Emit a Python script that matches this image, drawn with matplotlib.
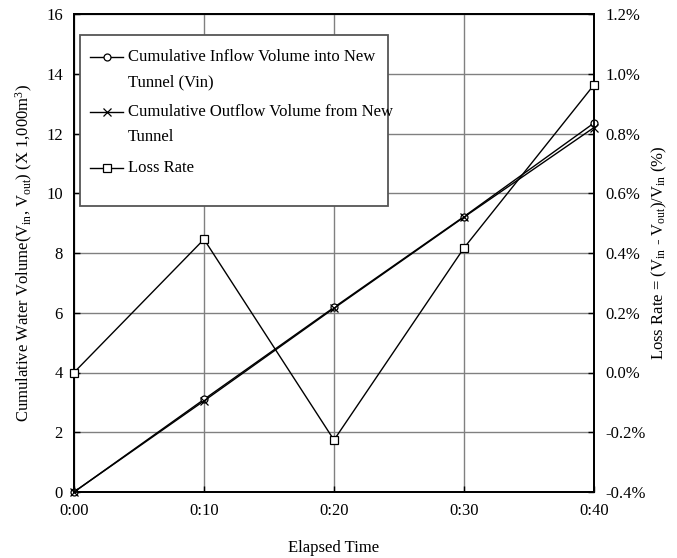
import matplotlib
matplotlib.use("Agg")
import matplotlib.pyplot as plt
from matplotlib.patches import Rectangle
from matplotlib.lines import Line2D
from matplotlib.ticker import FuncFormatter

plt.rcParams['font.family'] = ['Liberation Serif', 'DejaVu Serif']
plt.rcParams['mathtext.fontset'] = 'custom'
plt.rcParams['mathtext.rm'] = 'Liberation Serif'
plt.rcParams['mathtext.it'] = 'Liberation Serif:italic'
plt.rcParams['mathtext.default'] = 'regular'

# Data
minutes = [0, 10, 20, 30, 40]
time_labels = ["0:00", "0:10", "0:20", "0:30", "0:40"]
inflow = [0.0, 3.1, 6.18, 9.22, 12.35]
outflow = [0.0, 3.05, 6.15, 9.2, 12.2]
loss_rate = [0.0, 0.446, -0.226, 0.417, 0.963]  # percent

left_ticks = [0, 2, 4, 6, 8, 10, 12, 14, 16]
right_ticks = [-0.4, -0.2, 0.0, 0.2, 0.4, 0.6, 0.8, 1.0, 1.2]

legend_labels = [["Cumulative Inflow Volume into New", "Tunnel (Vin)"],
                 ["Cumulative Outflow Volume from New", "Tunnel"],
                 ["Loss Rate"]]

W, H = 677, 558
fs = 12
fig = plt.figure(figsize=(W/100, H/100), dpi=100)
ax = fig.add_axes([74/W, 1-492/H, 520/W, 478/H])
ax2 = ax.twinx()

ax.set_xlim(minutes[0], minutes[-1])
ax.set_ylim(left_ticks[0], left_ticks[-1])
ax2.set_ylim(right_ticks[0], right_ticks[-1])
ax.set_xticks(minutes)
ax.set_xticklabels(time_labels)
ax.set_yticks(left_ticks)
ax2.set_yticks(right_ticks)
ax2.yaxis.set_major_formatter(FuncFormatter(lambda v, p: f"{v:.1f}%"))

ax.grid(True, color='#808080', linewidth=1.0)
ax.set_axisbelow(True)

for a in (ax, ax2):
    a.tick_params(direction='in', length=4, width=1, labelsize=fs, pad=8)
    for s in a.spines.values():
        s.set_linewidth(1.3)
        s.set_color('black')

styles = [dict(marker='o', markersize=5, markerfacecolor='white',
               markeredgecolor='black', markeredgewidth=0.9),
          dict(marker='x', markersize=6, markeredgecolor='black',
               markeredgewidth=0.9),
          dict(marker='s', markersize=5.5, markerfacecolor='white',
               markeredgecolor='black', markeredgewidth=0.9)]

ax.plot(minutes, inflow, color='black', linewidth=1.0, zorder=3,
        clip_on=False, **styles[0])
ax.plot(minutes, outflow, color='black', linewidth=1.0, zorder=3,
        clip_on=False, **styles[1])
ax2.plot(minutes, loss_rate, color='black', linewidth=1.0, zorder=3,
         clip_on=False, **styles[2])

ax.set_xlabel("Elapsed Time", fontsize=fs, labelpad=15)
ax.set_ylabel("Cumulative Water Volume(V$_{in}$, V$_{out}$) (X 1,000m$^{3}$)",
              fontsize=fs, labelpad=8)
ax2.set_ylabel("Loss Rate = (V$_{in}$ - V$_{out}$)/V$_{in}$ (%)", fontsize=fs,
               labelpad=3)

# Legend (drawn manually so handles align with first line of each label)
def fx(px):
    return px / W

def fy(py):
    return 1 - py / H

rect = Rectangle((fx(80), fy(206)), fx(388) - fx(80), fy(35) - fy(206),
                 transform=fig.transFigure, facecolor='white',
                 edgecolor='#555555', linewidth=1.3, zorder=5)
fig.patches.append(rect)

entry_tops = [57, 112, 168]
line_gap = 25
for lines, top, st in zip(legend_labels, entry_tops, styles):
    fig.add_artist(Line2D([fx(90), fx(123)], [fy(top), fy(top)],
                          color='black', linewidth=1.0, zorder=6))
    fig.add_artist(Line2D([fx(106.5)], [fy(top)], linestyle='none',
                          zorder=7, **st))
    for k, txt in enumerate(lines):
        fig.text(fx(128), fy(top + k * line_gap), txt, fontsize=fs,
                 ha='left', va='center', zorder=7)

fig.savefig("out.png", dpi=100)
